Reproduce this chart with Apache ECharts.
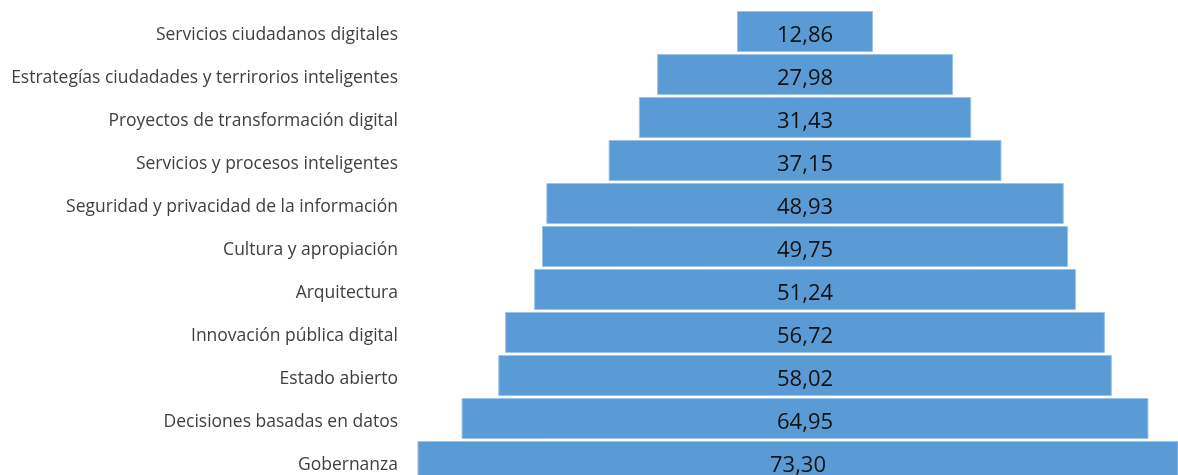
<!DOCTYPE html>
<html><head><meta charset="utf-8">
<script src="https://cdn.jsdelivr.net/npm/echarts@6/dist/echarts.min.js"></script>
<style>html,body{margin:0;padding:0;background:#fff}#c{width:1178px;height:475px}</style>
</head><body><div id="c"></div>
<script>
const categories = [
  "Servicios ciudadanos digitales",
  "Estrategías ciudadades y terrirorios inteligentes",
  "Proyectos de transformación digital",
  "Servicios y procesos inteligentes",
  "Seguridad y privacidad de la información",
  "Cultura y apropiación",
  "Arquitectura",
  "Innovación pública digital",
  "Estado abierto",
  "Decisiones basadas en datos",
  "Gobernanza"
];
const values = [12.86, 27.98, 31.43, 37.15, 48.93, 49.75, 51.24, 56.72, 58.02, 64.95, 73.30];

const center = 37.83;
const offsets = values.map(v => center - v / 2);

const chart = echarts.init(document.getElementById('c'));
chart.setOption({
  animation: false,
  grid: { left: 405, width: 773, top: 10, height: 473, containLabel: false, outerBoundsMode: 'none' },
  xAxis: { type: 'value', min: 0, max: 73.1, show: false },
  yAxis: {
    type: 'category', data: categories, inverse: true,
    axisLine: { show: false }, axisTick: { show: false },
    axisLabel: { margin: 7, fontFamily: 'Open Sans', fontSize: 17.5, color: '#404040', verticalAlign: 'top', lineHeight: 8 }
  },
  series: [
    { type: 'bar', stack: 's', data: offsets, itemStyle: { color: 'transparent' }, barCategoryGap: '4.6%', silent: true },
    { type: 'bar', stack: 's', data: values, barCategoryGap: '4.6%',
      itemStyle: { color: '#5B9BD5', borderColor: '#9cc3e8', borderWidth: 1 },
      label: { show: true, position: 'inside', offset: [0, 4], fontFamily: 'Open Sans', fontSize: 22, color: '#111',
        formatter: p => p.value.toFixed(2).replace('.', ',') } }
  ]
});
</script></body></html>
